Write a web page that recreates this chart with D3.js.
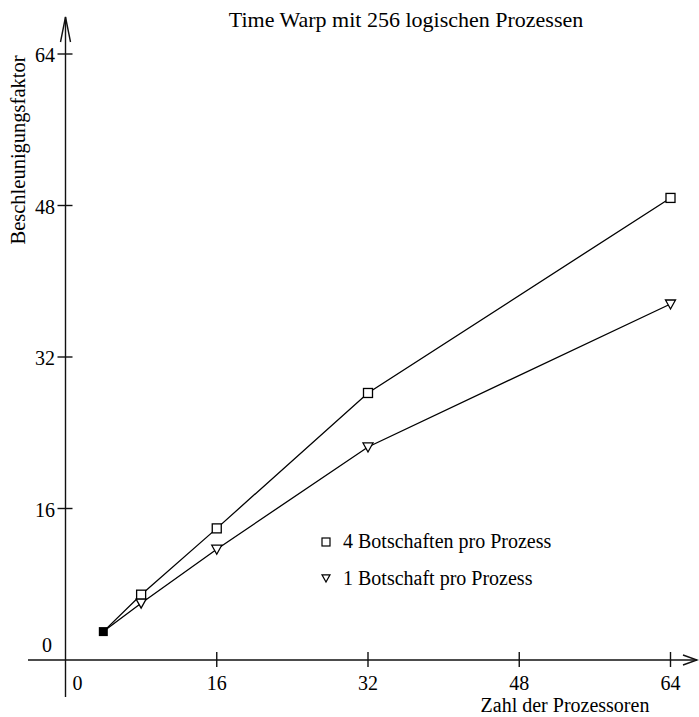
<!DOCTYPE html>
<html><head><meta charset="utf-8">
<script src="https://cdn.jsdelivr.net/npm/d3@7"></script>
<style>body{margin:0;background:#fff}svg{display:block}text{font-family:"Liberation Serif","Times New Roman",serif;fill:#000}</style>
</head><body>
<script>
const procs = [4, 8, 16, 32, 64];
const fourMsgs = [3, 6.9, 13.9, 28.2, 48.8];
const oneMsg = [3, 6.0, 11.7, 22.5, 37.6];
const xTicks = [0, 16, 32, 48, 64];
const yTicks = [0, 16, 32, 48, 64];
const seriesNames = ["4 Botschaften pro Prozess", "1 Botschaft pro Prozess"];
const title = "Time Warp mit 256 logischen Prozessen";
const xLabel = "Zahl der Prozessoren";
const yLabel = "Beschleunigungsfaktor";

const W = 699, H = 717;
const svg = d3.select("body").append("svg").attr("width", W).attr("height", H);
const x = d3.scaleLinear().domain([0, 64]).range([65.5, 670.5]);
const y = d3.scaleLinear().domain([0, 64]).range([660, 54]);
const fs = 20;

// axes lines
const ax = svg.append("g").attr("stroke", "#111").attr("stroke-width", 1.4).attr("fill", "none");
ax.append("line").attr("x1", 28).attr("x2", 697).attr("y1", y(0)).attr("y2", y(0));
ax.append("line").attr("x1", x(0)).attr("x2", x(0)).attr("y1", 697).attr("y2", 17);
// arrows
ax.append("path").attr("d", `M${x(0)-5},42 L${x(0)},17 L${x(0)+5},42`);
ax.append("path").attr("d", `M683,${y(0)-5} L697,${y(0)} L683,${y(0)+5}`);

// ticks
xTicks.filter(d => d > 0).forEach(d => {
  ax.append("line").attr("x1", x(d)).attr("x2", x(d)).attr("y1", y(0) - 8).attr("y2", y(0) + 7);
});
yTicks.filter(d => d > 0).forEach(d => {
  ax.append("line").attr("x1", x(0) - 8).attr("x2", x(0) + 7).attr("y1", y(d)).attr("y2", y(d));
});
// tick labels
svg.append("g").selectAll("text").data(xTicks).join("text")
  .attr("x", d => d === 0 ? x(d) + 12 : x(d)).attr("y", 690)
  .attr("text-anchor", "middle").attr("font-size", fs).text(d => d);
svg.append("g").selectAll("text").data(yTicks).join("text")
  .attr("x", d => d === 0 ? 52 : 55).attr("y", d => d === 0 ? 652 : y(d) + 8)
  .attr("text-anchor", "end").attr("font-size", fs).text(d => d);

// titles
svg.append("text").attr("x", 406).attr("y", 27).attr("text-anchor", "middle").attr("font-size", 22).text(title);
svg.append("text").attr("x", 565).attr("y", 712).attr("text-anchor", "middle").attr("font-size", fs).text(xLabel);
svg.append("text").attr("transform", "translate(25,150) rotate(-90)").attr("text-anchor", "middle").attr("font-size", 20.5).text(yLabel);

// lines
const line = d3.line().x((d, i) => x(procs[i])).y(d => y(d));
[fourMsgs, oneMsg].forEach(s => {
  svg.append("path").attr("d", line(s)).attr("fill", "none").attr("stroke", "#000").attr("stroke-width", 1.3);
});

// markers
const sq = 9;
svg.append("g").selectAll("rect").data(fourMsgs.slice(1)).join("rect")
  .attr("x", (d, i) => x(procs[i + 1]) - sq / 2).attr("y", d => y(d) - sq / 2)
  .attr("width", sq).attr("height", sq).attr("fill", "#fff").attr("stroke", "#000").attr("stroke-width", 1.3);
const tri = (cx, cy, s) => `M${cx - s / 2},${cy - s * 0.4} L${cx + s / 2},${cy - s * 0.4} L${cx},${cy + s * 0.5} Z`;
svg.append("g").selectAll("path").data(oneMsg.slice(1)).join("path")
  .attr("d", (d, i) => tri(x(procs[i + 1]), y(d), 10))
  .attr("fill", "#fff").attr("stroke", "#000").attr("stroke-width", 1.3);
// shared start point
svg.append("rect").attr("x", x(procs[0]) - 4.5).attr("y", y(fourMsgs[0]) - 4.5).attr("width", 9).attr("height", 9).attr("fill", "#000");

// legend
const lg = svg.append("g");
lg.append("rect").attr("x", 322).attr("y", 538).attr("width", 8).attr("height", 8).attr("fill", "#fff").attr("stroke", "#000").attr("stroke-width", 1.2);
lg.append("path").attr("d", tri(326, 578, 8)).attr("fill", "#fff").attr("stroke", "#000").attr("stroke-width", 1.2);
lg.selectAll("text").data(seriesNames).join("text")
  .attr("x", 343).attr("y", (d, i) => 548 + i * 37).attr("font-size", fs).text(d => d);
</script>
</body></html>
